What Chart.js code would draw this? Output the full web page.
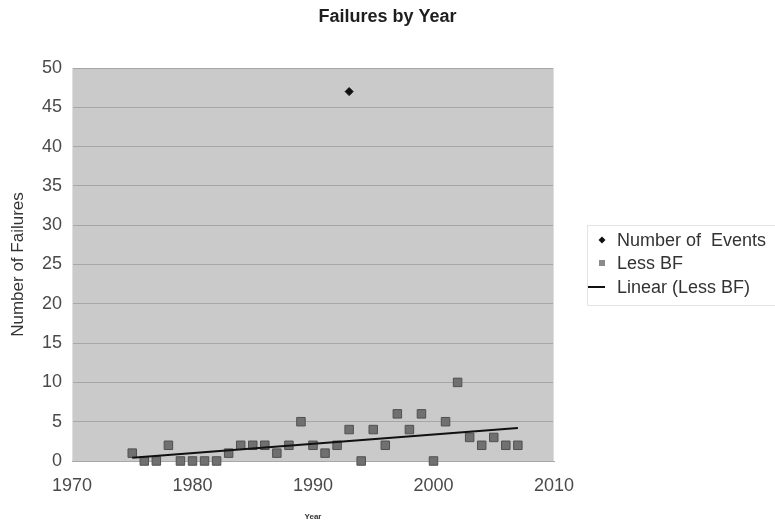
<!DOCTYPE html>
<html>
<head>
<meta charset="utf-8">
<title>Failures by Year</title>
<script src="https://cdn.jsdelivr.net/npm/chart.js@4"></script>
<style>
  body { margin: 0; background: #ffffff; }
  canvas { display: block; }
</style>
</head>
<body>
<canvas id="chart" width="775" height="526"></canvas>
<script>
// data
const chartTitle = 'Failures by Year';
const years = [1975, 1976, 1977, 1978, 1979, 1980, 1981, 1982, 1983, 1984, 1985,
               1986, 1987, 1988, 1989, 1990, 1991, 1992, 1993, 1994, 1995, 1996,
               1997, 1998, 1999, 2000, 2001, 2002, 2003, 2004, 2005, 2006, 2007];
const lessBF = [1, 0, 0, 2, 0, 0, 0, 0, 1, 2, 2,
                2, 1, 2, 5, 2, 1, 2, 4, 0, 4, 2,
                6, 4, 6, 0, 5, 10, 3, 2, 3, 2, 2];
const eventYears = [1993];
const eventCounts = [47];
const trendYears = [1975, 2007];
const trendValues = [0.4, 4.2];
const seriesNames = ['Number of  Events', 'Less BF', 'Linear (Less BF)'];

const FONT = "'Liberation Sans', Arial, sans-serif";

const toPoints = (xs, ys) => xs.map((x, i) => ({ x: x, y: ys[i] }));

// grey plot background + title + legend, drawn by hand like the Excel original
const excelLook = {
  id: 'excelLook',
  beforeDraw(chart) {
    const { ctx, chartArea: a } = chart;
    ctx.save();
    ctx.fillStyle = '#cacaca';
    ctx.fillRect(a.left, a.top, a.right - a.left, a.bottom - a.top);
    ctx.restore();
  },
  afterDraw(chart) {
    const { ctx, chartArea: a } = chart;
    ctx.save();
    // thin light frame round the plot
    ctx.strokeStyle = '#dedede';
    ctx.lineWidth = 1;
    ctx.beginPath();
    ctx.moveTo(a.left + 0.5, a.top);
    ctx.lineTo(a.left + 0.5, a.bottom);
    ctx.moveTo(a.right - 0.5, a.top);
    ctx.lineTo(a.right - 0.5, a.bottom);
    ctx.stroke();

    // title, centred on the whole picture
    ctx.fillStyle = '#1e1e1e';
    ctx.font = 'bold 18px ' + FONT;
    ctx.textAlign = 'center';
    ctx.textBaseline = 'middle';
    ctx.fillText(chartTitle, chart.width / 2, 17);

    // legend box
    ctx.strokeStyle = '#e4e4e4';
    ctx.strokeRect(587.5, 225.5, 200, 80);
    const rows = [240, 263, 287];
    const ds = chart.data.datasets;
    ctx.font = '18px ' + FONT;
    ctx.textAlign = 'left';
    ds.forEach((d, i) => {
      const y = rows[i];
      ctx.fillStyle = d.pointBackgroundColor || d.borderColor;
      ctx.strokeStyle = d.borderColor;
      if (d.pointStyle === 'rectRot') {
        ctx.beginPath();
        ctx.moveTo(602, y - 3.5);
        ctx.lineTo(605.5, y);
        ctx.lineTo(602, y + 3.5);
        ctx.lineTo(598.5, y);
        ctx.closePath();
        ctx.fill();
      } else if (d.pointStyle === 'rect') {
        ctx.fillStyle = '#8a8a8a';
        ctx.fillRect(599, y - 3, 6, 6);
      } else {
        ctx.lineWidth = 2;
        ctx.beginPath();
        ctx.moveTo(588, y);
        ctx.lineTo(605, y);
        ctx.stroke();
      }
      ctx.fillStyle = '#333333';
      ctx.fillText(d.label, 617, y + 1);
    });
    ctx.restore();
  }
};

new Chart(document.getElementById('chart'), {
  type: 'scatter',
  data: {
    datasets: [
      {
        label: seriesNames[0],
        data: toPoints(eventYears, eventCounts),
        pointStyle: 'rectRot',
        pointRadius: 4,
        borderColor: '#111111',
        pointBackgroundColor: '#111111',
        backgroundColor: '#111111',
        clip: false,
        order: 1
      },
      {
        label: seriesNames[1],
        data: toPoints(years, lessBF),
        pointStyle: 'rect',
        pointRadius: 6,
        borderWidth: 1,
        borderColor: '#505050',
        pointBackgroundColor: '#707070',
        backgroundColor: '#707070',
        clip: false,
        order: 2
      },
      {
        label: seriesNames[2],
        type: 'line',
        data: toPoints(trendYears, trendValues),
        borderColor: '#111111',
        borderWidth: 2,
        pointRadius: 0,
        fill: false,
        clip: false,
        order: 0
      }
    ]
  },
  options: {
    responsive: false,
    animation: false,
    devicePixelRatio: 1,
    layout: { padding: { top: 68, right: 221, bottom: 0, left: 0 } },
    plugins: {
      legend: { display: false },
      title: { display: false },
      tooltip: { enabled: false }
    },
    scales: {
      x: {
        type: 'linear',
        min: 1970,
        max: 2010,
        afterFit: (s) => { s.height = 65; },
        ticks: {
          stepSize: 10,
          padding: 14,
          color: '#4a4a4a',
          font: { family: FONT, size: 18 },
          callback: (v) => String(v)
        },
        grid: { display: false, drawTicks: false },
        border: { display: true, color: '#a8a8a8' },
        title: {
          display: true,
          text: 'Year',
          color: '#333333',
          font: { family: FONT, size: 8, weight: 'bold' },
          padding: { top: 0, bottom: 4 }
        }
      },
      y: {
        min: 0,
        max: 50,
        afterFit: (s) => { s.width = 72; },
        ticks: {
          stepSize: 5,
          padding: 10,
          color: '#4a4a4a',
          font: { family: FONT, size: 18 }
        },
        grid: { color: '#a6a6a6', lineWidth: 1, drawTicks: false },
        border: { display: false },
        title: {
          display: true,
          text: 'Number of Failures',
          color: '#333333',
          font: { family: FONT, size: 17 },
          padding: { top: 8, bottom: 0 }
        }
      }
    }
  },
  plugins: [excelLook]
});
</script>
</body>
</html>
